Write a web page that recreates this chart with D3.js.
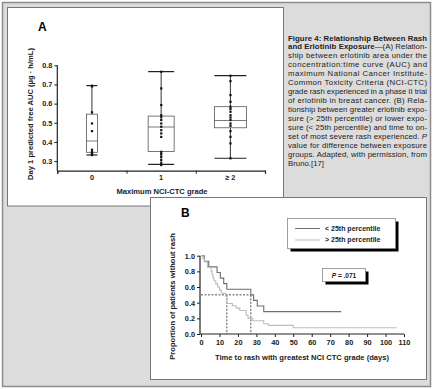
<!DOCTYPE html>
<html lang="en">
  <head>
    <meta charset="utf-8" />
    <title>Figure 4: Relationship Between Rash and Erlotinib Exposure</title>
    <style>
      body {
        margin: 0;
        background: #fff;
      }
      svg {
        display: block;
        font-family: 'Liberation Sans', Arial, sans-serif;
      }
    </style>
  </head>

  <body>
    <div class="container"></div>
    <script src="https://cdn.jsdelivr.net/npm/d3@7"></script>
    <script>
      // Panel A: box plots of AUC by max NCI-CTC grade
      const grades = ['0', '1', '\u2265 2'];
      const whiskerLow = [0.332, 0.283, 0.315];
      const quart1 = [0.346, 0.35, 0.474];
      const medians = [0.405, 0.478, 0.512];
      const quart3 = [0.545, 0.535, 0.584];
      const whiskerHigh = [0.694, 0.767, 0.746];
      const points0 = [0.694, 0.69, 0.555, 0.497, 0.457, 0.36, 0.349, 0.343, 0.338, 0.332];
      const points1 = [
        0.767, 0.68, 0.593, 0.54, 0.529, 0.515, 0.497, 0.48, 0.462, 0.445, 0.427, 0.349, 0.337,
        0.323, 0.306, 0.289, 0.28,
      ];
      const points2 = [
        0.746, 0.718, 0.645, 0.61, 0.584, 0.572, 0.558, 0.54, 0.528, 0.515, 0.497, 0.485, 0.457,
        0.427, 0.393, 0.315,
      ];
      const yTicksA = [0.3, 0.4, 0.5, 0.6, 0.7, 0.8];

      // Panel B: Kaplan-Meier curves
      const lowDays = [0, 1.8, 4.2, 8.7, 10.5, 12.3, 14, 27, 28.5, 30.5, 34, 76];
      const lowProp = [1, 0.929, 0.857, 0.786, 0.714, 0.643, 0.571, 0.5, 0.429, 0.357, 0.286, 0.286];
      const highDays = [
        0, 1, 2, 3.5, 5.5, 6, 6.5, 7, 8, 9, 10, 11, 13.5, 14, 17, 19, 21, 24.5, 25.5, 28, 34, 36.5,
        50, 106,
      ];
      const highProp = [
        1, 0.96, 0.92, 0.85, 0.8, 0.76, 0.72, 0.68, 0.64, 0.6, 0.56, 0.52, 0.48, 0.39, 0.36, 0.33,
        0.3, 0.24, 0.2, 0.17, 0.13, 0.11, 0.08, 0.08,
      ];
      const medianDays = [14, 27];
      const xTicksB = d3.range(0, 111, 10);
      const yTicksB = [0, 0.2, 0.4, 0.6, 0.8, 1.0];
      const seriesNames = ['< 25th percentile', '> 25th percentile'];

      const caption = [
        [{ t: 'Figure 4: Relationship Between Rash', b: true }],
        [{ t: 'and Erlotinib Exposure', b: true }, { t: '\u2014(A) Relation-' }],
        [{ t: 'ship between erlotinib area under the' }],
        [{ t: 'concentration:time curve (AUC) and' }],
        [{ t: 'maximum National Cancer Institute-' }],
        [{ t: 'Common Toxicity Criteria (NCI-CTC)' }],
        [{ t: 'grade rash experienced in a phase II trial' }],
        [{ t: 'of erlotinib in breast cancer. (B) Rela-' }],
        [{ t: 'tionship between greater erlotinib expo-' }],
        [{ t: 'sure (> 25th percentile) or lower expo-' }],
        [{ t: 'sure (< 25th percentile) and time to on-' }],
        [{ t: 'set of most severe rash experienced. ' }, { t: 'P', i: true }],
        [{ t: 'value for difference between exposure' }],
        [{ t: 'groups. Adapted, with permission, from' }],
        [{ t: 'Bruno.[17]' }],
      ];

      const width = 433;
      const height = 389;
      const svg = d3
        .select('div.container')
        .append('svg')
        .attr('width', width)
        .attr('height', height);

      // frame
      svg
        .append('rect')
        .attr('x', 2.5)
        .attr('y', 2.5)
        .attr('width', 428)
        .attr('height', 384)
        .attr('fill', '#dcdcdc')
        .attr('stroke', '#8c8c8c')
        .attr('stroke-width', 1.5);

      // caption
      caption.forEach((line, i) => {
        const t = svg
          .append('text')
          .attr('x', 288)
          .attr('y', 40.5 + i * 8.93)
          .style('font-size', '7.8px')
          .style('fill', '#222');
        if (i < caption.length - 1) t.attr('textLength', 139).attr('lengthAdjust', 'spacing');
        line.forEach((s) => {
          t.append('tspan')
            .text(s.t)
            .style('font-weight', s.b ? 'bold' : 'normal')
            .style('font-style', s.i ? 'italic' : 'normal');
        });
      });

      // ---------- Panel A ----------
      const pa = svg.append('g');
      pa.append('rect')
        .attr('x', 7.5)
        .attr('y', 7.5)
        .attr('width', 276)
        .attr('height', 198.5)
        .attr('fill', '#fff')
        .attr('stroke', '#777');

      pa.append('text')
        .attr('x', 38)
        .attr('y', 31)
        .text('A')
        .style('font-size', '12px')
        .style('font-weight', 'bold');

      const xA = d3.scaleLinear().domain([-0.5, 2.5]).range([57.3, 265]);
      const yA = d3.scaleLinear().domain([0.25, 0.8]).range([170.7, 65.3]);

      const yAxisA = pa
        .append('g')
        .attr('transform', 'translate(57.3,0)')
        .call(d3.axisLeft(yA).tickValues(yTicksA).tickFormat(d3.format('.1f')).tickSize(3).tickPadding(2));
      yAxisA.select('.domain').attr('d', `M0,${yA(0.8)}V${yA(0.25)}`);

      const xAxisA = pa
        .append('g')
        .attr('transform', 'translate(0,170.7)')
        .call(d3.axisBottom(xA).tickValues([-0.5, 0.5, 1.5, 2.5]).tickFormat('').tickSize(3));

      [yAxisA, xAxisA].forEach((ax) => {
        ax.select('.domain').attr('stroke', '#222').attr('stroke-width', 1.2);
        ax.selectAll('.tick line').attr('stroke', '#222');
        ax.selectAll('text').style('font-size', '7.3px').style('font-weight', 'bold').attr('fill', '#222');
      });

      pa.selectAll('text.grade')
        .data(grades)
        .join('text')
        .attr('class', 'grade')
        .attr('x', (d, i) => xA(i))
        .attr('y', 180)
        .attr('text-anchor', 'middle')
        .text((d) => d)
        .style('font-size', '7.3px')
        .style('font-weight', 'bold')
        .style('fill', '#222');

      pa.append('text')
        .attr('x', 162)
        .attr('y', 193.5)
        .attr('text-anchor', 'middle')
        .text('Maximum NCI-CTC grade')
        .style('font-size', '7.6px')
        .style('font-weight', 'bold')
        .style('fill', '#222');

      pa.append('text')
        .attr('transform', 'translate(32.5,114) rotate(-90)')
        .attr('text-anchor', 'middle')
        .text('Day 1 predicted free AUC (\u00b5g \u00b7 h/mL)')
        .style('font-size', '7.6px')
        .style('font-weight', 'bold')
        .style('fill', '#222');

      const boxW = [11, 26, 32];
      const allPoints = [points0, points1, points2];
      grades.forEach((g, i) => {
        const cx = xA(i);
        const w = boxW[i];
        const bg = pa.append('g');
        bg.append('line')
          .attr('x1', cx)
          .attr('x2', cx)
          .attr('y1', yA(whiskerHigh[i]))
          .attr('y2', yA(whiskerLow[i]))
          .attr('stroke', '#333')
          .attr('stroke-width', 1);
        bg.append('rect')
          .attr('x', cx - w / 2)
          .attr('y', yA(quart3[i]))
          .attr('width', w)
          .attr('height', yA(quart1[i]) - yA(quart3[i]))
          .attr('fill', '#fff')
          .attr('stroke', '#555')
          .attr('stroke-width', 0.8);
        bg.append('line')
          .attr('x1', cx - w / 2)
          .attr('x2', cx + w / 2)
          .attr('y1', yA(medians[i]))
          .attr('y2', yA(medians[i]))
          .attr('stroke', '#555')
          .attr('stroke-width', 0.8);
        [whiskerHigh[i], whiskerLow[i]].forEach((v) => {
          bg.append('line')
            .attr('x1', cx - w / 2)
            .attr('x2', cx + w / 2)
            .attr('y1', yA(v))
            .attr('y2', yA(v))
            .attr('stroke', '#222')
            .attr('stroke-width', 1.2);
        });
        bg.selectAll('rect.pt')
          .data(allPoints[i])
          .join('rect')
          .attr('class', 'pt')
          .attr('x', cx - 1)
          .attr('y', (d) => yA(d) - 1)
          .attr('width', 2.2)
          .attr('height', 2.2)
          .attr('fill', '#111');
      });

      // ---------- Panel B ----------
      const pb = svg.append('g');
      pb.append('rect')
        .attr('x', 150.5)
        .attr('y', 197.5)
        .attr('width', 276)
        .attr('height', 182)
        .attr('fill', '#fff')
        .attr('stroke', '#777');

      pb.append('text')
        .attr('x', 181)
        .attr('y', 217)
        .text('B')
        .style('font-size', '12px')
        .style('font-weight', 'bold');

      const xB = d3.scaleLinear().domain([0, 110]).range([201, 404]);
      const yB = d3.scaleLinear().domain([0, 1]).range([334, 255.7]);

      const yAxisB = pb
        .append('g')
        .attr('transform', 'translate(200,0)')
        .call(d3.axisLeft(yB).tickValues(yTicksB).tickFormat(d3.format('.1f')).tickSize(3).tickPadding(2));
      yAxisB.select('.domain').attr('d', `M0,${yB(1)}V${yB(0)}`);

      const xAxisB = pb
        .append('g')
        .attr('transform', 'translate(0,334)')
        .call(d3.axisBottom(xB).tickValues(xTicksB).tickSize(3).tickPadding(3));
      xAxisB.select('.domain').attr('d', `M200,0H${xB(110)}`);

      [yAxisB, xAxisB].forEach((ax) => {
        ax.select('.domain').attr('stroke', '#222').attr('stroke-width', 1.2);
        ax.selectAll('.tick line').attr('stroke', '#222');
        ax.selectAll('text').style('font-size', '7.3px').style('font-weight', 'bold').attr('fill', '#222');
      });

      pb.append('text')
        .attr('x', 302)
        .attr('y', 360)
        .attr('text-anchor', 'middle')
        .text('Time to rash with greatest NCI CTC grade (days)')
        .style('font-size', '7.6px')
        .style('font-weight', 'bold')
        .style('fill', '#222');

      pb.append('text')
        .attr('transform', 'translate(174.5,296.5) rotate(-90)')
        .attr('text-anchor', 'middle')
        .text('Proportion of patients without rash')
        .style('font-size', '7.6px')
        .style('font-weight', 'bold')
        .style('fill', '#222');

      // median guides
      const dash = pb.append('g').attr('stroke', '#222').attr('stroke-width', 0.8).attr('stroke-dasharray', '2,1.5').attr('fill', 'none');
      dash.append('line')
        .attr('x1', xB(0))
        .attr('x2', xB(d3.max(medianDays)))
        .attr('y1', yB(0.5))
        .attr('y2', yB(0.5));
      medianDays.forEach((m) => {
        dash.append('line').attr('x1', xB(m)).attr('x2', xB(m)).attr('y1', yB(0.5)).attr('y2', yB(0));
      });

      const km = d3
        .line()
        .x((d) => xB(d[0]))
        .y((d) => yB(d[1]))
        .curve(d3.curveStepAfter);
      const series = [
        { days: lowDays, prop: lowProp, color: '#6e6e6e' },
        { days: highDays, prop: highProp, color: '#bdbdbd' },
      ];
      series.forEach((s) => {
        pb.append('path')
          .datum(s.days.map((d, i) => [d, s.prop[i]]))
          .attr('d', km)
          .attr('fill', 'none')
          .attr('stroke', s.color)
          .attr('stroke-width', 1.1);
      });

      // legend with drop shadow
      pb.append('rect').attr('x', 290.5).attr('y', 221.5).attr('width', 108).attr('height', 30).attr('fill', '#000');
      pb.append('rect')
        .attr('x', 287.5)
        .attr('y', 218.5)
        .attr('width', 108)
        .attr('height', 30)
        .attr('fill', '#fff')
        .attr('stroke', '#888')
        .attr('stroke-width', 0.8);
      seriesNames.forEach((name, i) => {
        const ly = 228.5 + i * 11.5;
        pb.append('line')
          .attr('x1', 295)
          .attr('x2', 320)
          .attr('y1', ly)
          .attr('y2', ly)
          .attr('stroke', series[i].color)
          .attr('stroke-width', 1);
        pb.append('text')
          .attr('x', 325)
          .attr('y', ly + 2.4)
          .text(name)
          .style('font-size', '7px')
          .style('font-weight', 'bold')
          .style('fill', '#222');
      });

      // P value box
      pb.append('rect').attr('x', 325.5).attr('y', 271.5).attr('width', 43).attr('height', 13).attr('fill', '#000');
      pb.append('rect')
        .attr('x', 322.5)
        .attr('y', 268.5)
        .attr('width', 43)
        .attr('height', 13)
        .attr('fill', '#fff')
        .attr('stroke', '#888')
        .attr('stroke-width', 0.8);
      const pt = pb
        .append('text')
        .attr('x', 344)
        .attr('y', 277.5)
        .attr('text-anchor', 'middle')
        .style('font-size', '6.5px')
        .style('font-weight', 'bold')
        .style('fill', '#222');
      pt.append('tspan').text('P').style('font-style', 'italic');
      pt.append('tspan').text(' = .071');
    </script>
  </body>
</html>
